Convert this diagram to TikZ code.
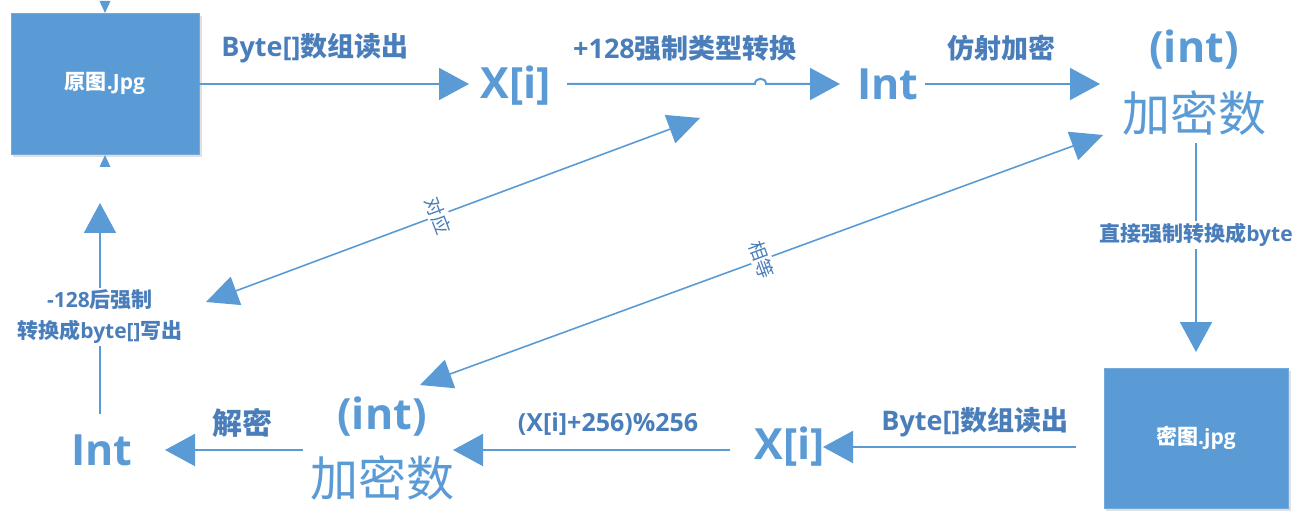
\documentclass[tikz,border=0pt]{standalone}
\usepackage{fontspec}
\setmainfont{Open Sans}
\newfontfamily\cjk{Noto Sans CJK SC}
\usetikzlibrary{arrows.meta}
\definecolor{boxc}{HTML}{5B9BD5}
\definecolor{bigc}{HTML}{5B9BD5}
\definecolor{lblc}{HTML}{4A7EBB}
\definecolor{linec}{HTML}{5B9BD5}
\newcommand\zh[1]{{\cjk #1}}
\tikzset{
  filebox/.style={rectangle, fill=boxc, draw=boxc!85!white, line width=0.6pt, text=white,
    font=\fontsize{21}{24}\selectfont\bfseries, inner sep=0pt},
  bigtxt/.style={text=bigc, font=\fontsize{43}{46}\selectfont\bfseries, inner sep=1pt},
  bigzh/.style={text=bigc, font=\fontsize{48}{50}\selectfont, inner sep=1pt},
  lbl/.style={text=lblc, font=\fontsize{27}{29}\selectfont\bfseries, inner sep=1pt},
  smlbl/.style={text=lblc, font=\fontsize{21}{31}\selectfont\bfseries, inner sep=2pt, fill=white, align=center},
  tinylbl/.style={text=lblc, font=\fontsize{19}{21}\selectfont, inner sep=2pt, fill=white},
  conn/.style={draw=linec, line width=2pt, -{Triangle[length=30pt,width=32pt]}},
  dconn/.style={draw=linec, line width=1.6pt, {Triangle[length=32pt,width=30pt]}-{Triangle[length=32pt,width=30pt]}},
}
\begin{document}
\begin{tikzpicture}[x=1pt,y=-1pt]
\useasboundingbox (0,0) rectangle (1314,529);
% shadows
\fill[black!12] (13,16) rectangle (202,157);
\fill[black!12] (1106,371) rectangle (1291,511);
% file boxes
\node[filebox, minimum width=188pt, minimum height=141pt] (src) at (105,83.5) {\zh{原图}.Jpg};
\node[filebox, minimum width=184pt, minimum height=140pt] (dst) at (1196,438) {\zh{密图}.jpg};
% small triangles at the source box
\fill[linec] (99.5,1) -- (110.5,1) -- (105,13) -- cycle;
\fill[linec] (99.5,167) -- (110.5,167) -- (105,155) -- cycle;
% top row texts
\node[lbl] (l1) at (315,48) {Byte[]\zh{数组读出}};
\node[bigtxt] (xi1) at (516,86) {X[i]};
\node[lbl] (l2) at (685,48) {+128\zh{强制类型转换}};
\node[bigtxt] (int1) at (888,84) {Int};
\node[lbl] (l3) at (1001,48) {\zh{仿射加密}};
\node[bigtxt] (enc1a) at (1194,50) {(int)};
\node[bigzh] (enc1b) at (1194,113) {\zh{加密数}};
% bottom row texts
\node[lbl] (l5) at (975,422) {Byte[]\zh{数组读出}};
\node[bigtxt] (xi2) at (790,447) {X[i]};
\node[lbl, font=\fontsize{25}{27}\selectfont\bfseries] (l6) at (608,424) {(X[i]+256)\%256};
\node[bigtxt] (enc2a) at (382,417) {(int)};
\node[bigzh] (enc2b) at (382,478) {\zh{加密数}};
\node[lbl, font=\fontsize{30}{32}\selectfont\bfseries] (l7) at (242,423) {\zh{解密}};
\node[bigtxt] (int2) at (102,450) {Int};
% coordinates of connector ends
\coordinate (a1s) at (199,84);   \coordinate (a1e) at (469,84);
\coordinate (a2s) at (567,84);   \coordinate (a2e) at (840,84);
\coordinate (j1) at (755,84);    \coordinate (j2) at (766,84);
\coordinate (a3s) at (925,84);   \coordinate (a3e) at (1100,84);
\coordinate (a4s) at (1196,143); \coordinate (a4e) at (1196,352);
\coordinate (a5s) at (1076,447); \coordinate (a5e) at (823,447);
\coordinate (a6s) at (730,450);  \coordinate (a6e) at (453,450);
\coordinate (a7s) at (303,450);  \coordinate (a7e) at (165,450);
\coordinate (a8s) at (100,414);  \coordinate (a8e) at (100,203);
\coordinate (d1s) at (206,302);  \coordinate (d1e) at (700,118);
\coordinate (d2s) at (420,385);  \coordinate (d2e) at (1103,135);
% connectors
\draw[conn] (a1s) -- (a1e);
\draw[conn] (a2s) -- (j1) .. controls (755,77) and (766,77) .. (j2) -- (a2e);
\draw[conn] (a3s) -- (a3e);
\draw[conn] (a4s) -- (a4e) node[smlbl, pos=0.44] (l4) {\zh{直接强制转换成}byte};
\draw[conn] (a5s) -- (a5e);
\draw[conn] (a6s) -- (a6e);
\draw[conn] (a7s) -- (a7e);
\draw[conn] (a8s) -- (a8e) node[smlbl, pos=0.46] (l8) {-128\zh{后强制}\\\zh{转换成}byte[]\zh{写出}};
\draw[dconn] (d1s) -- (d1e) node[tinylbl, rotate=-69.6, pos=0.47] (l9) {\zh{对应}};
\draw[dconn] (d2s) -- (d2e) node[tinylbl, rotate=-69.6, pos=0.5] (l10) {\zh{相等}};
\end{tikzpicture}
\end{document}
